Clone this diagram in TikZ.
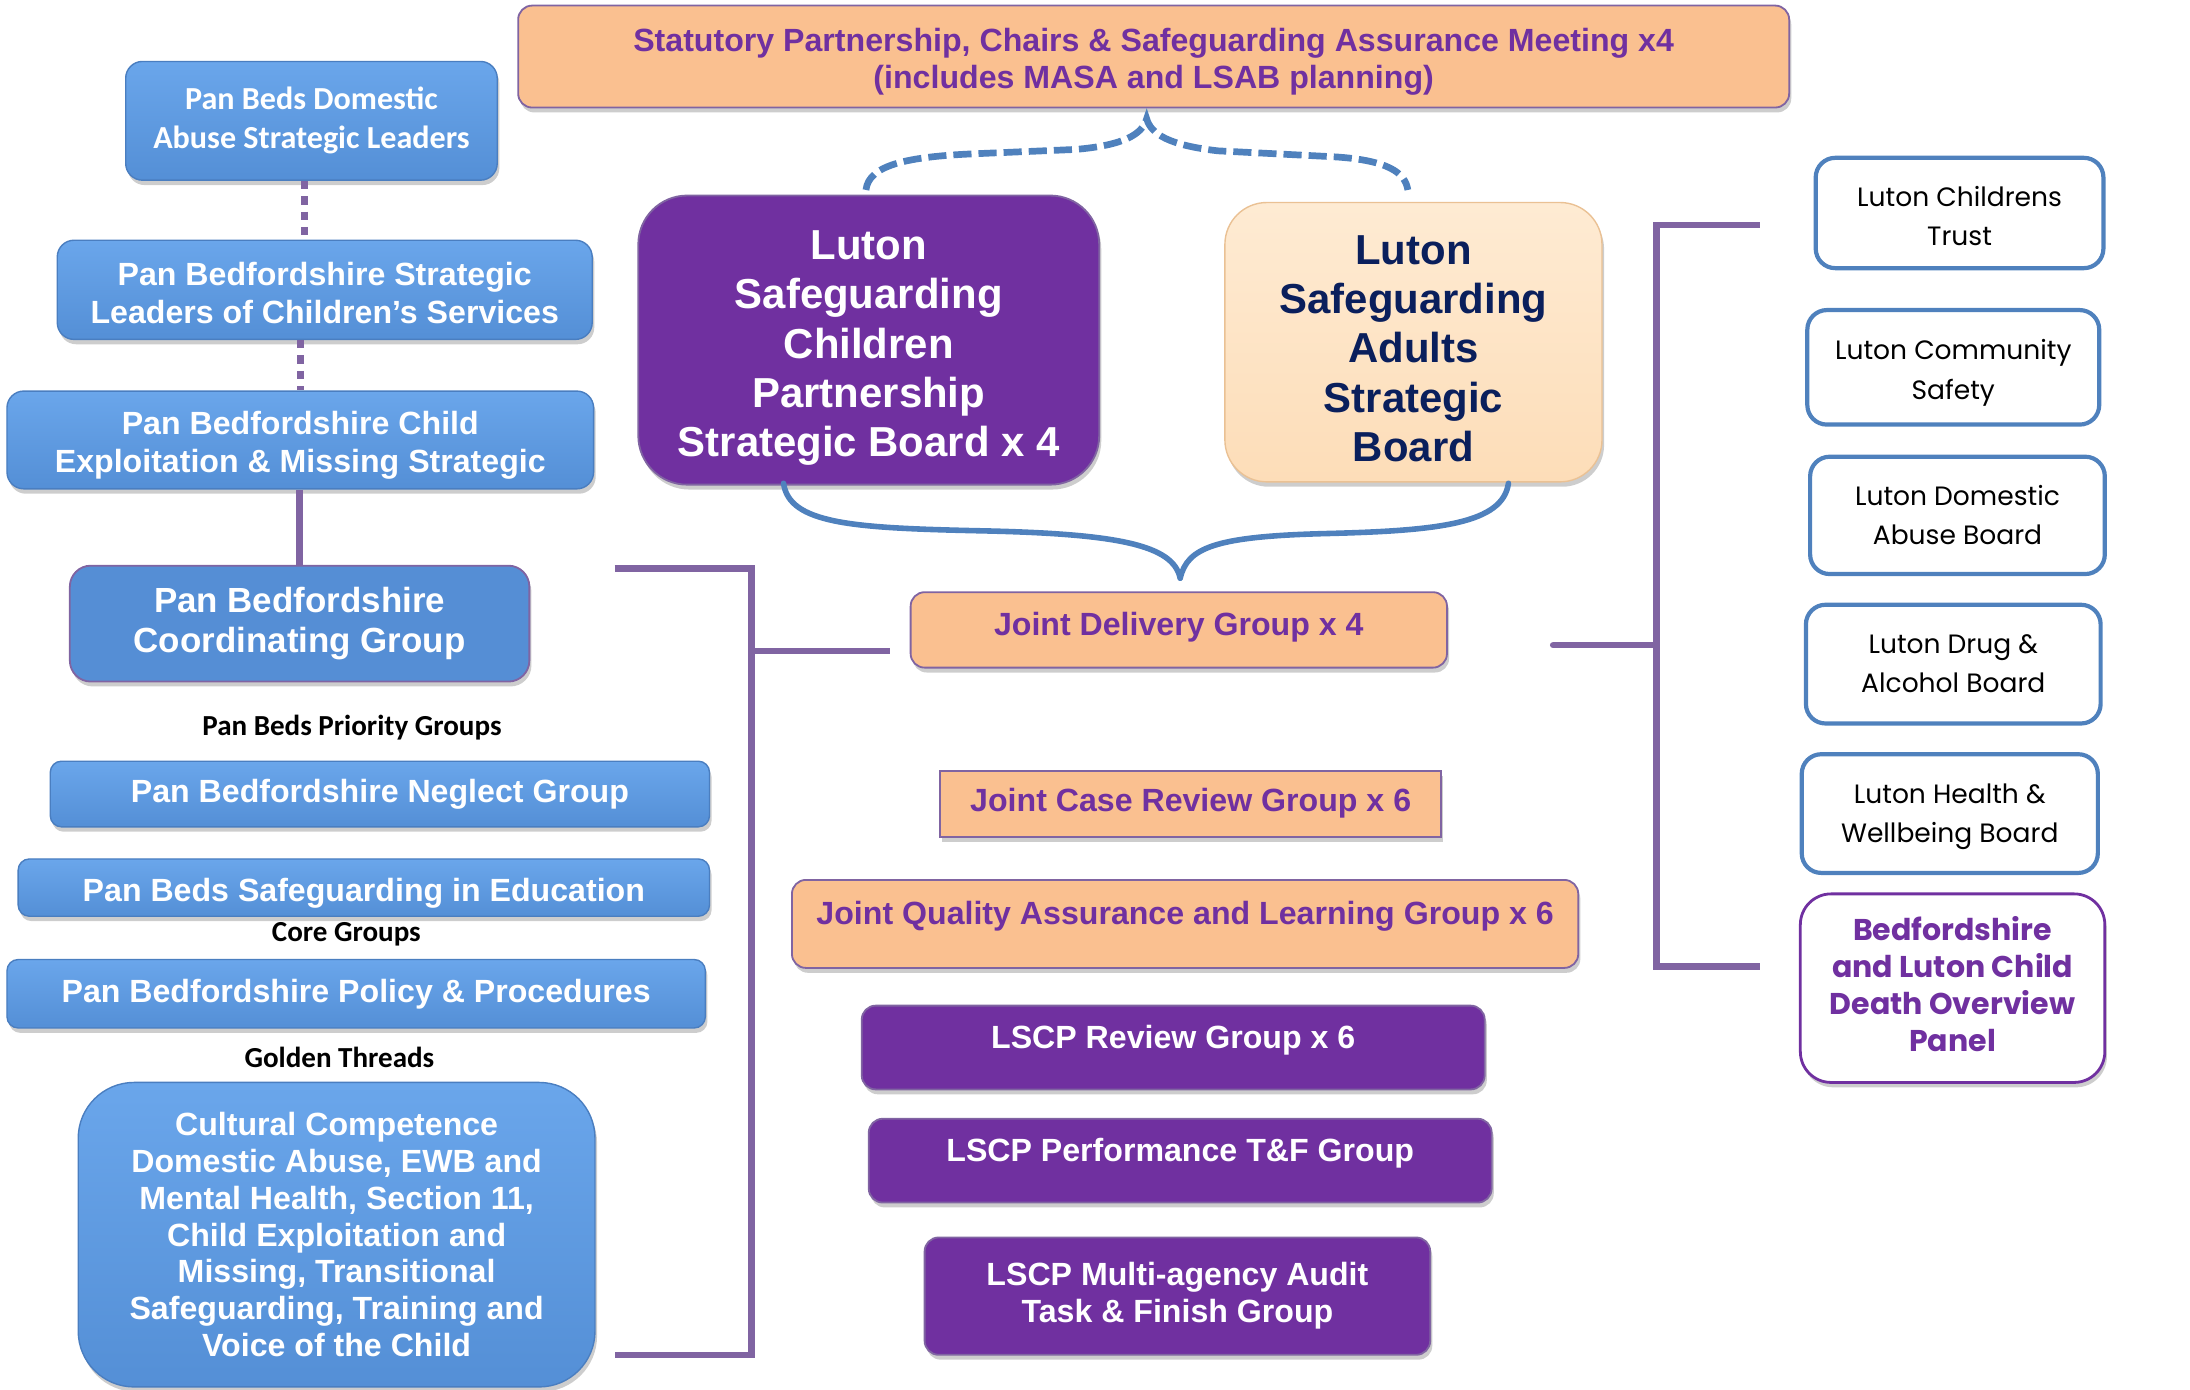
\documentclass[tikz,border=0pt]{standalone}
\usepackage{fontspec}
\setmainfont{Liberation Sans}
\newfontfamily\calib{Carlito}
\newfontfamily\gothic{Poppins}
\usetikzlibrary{shadows}
\definecolor{bluetop}{HTML}{6AA6EB}
\definecolor{bluemid}{HTML}{5B9BE0}
\definecolor{bluebot}{HTML}{548FD6}
\definecolor{blueedge}{HTML}{4A7EC0}
\definecolor{coordblue}{HTML}{558ED5}
\definecolor{lpurple}{HTML}{8064A2}
\definecolor{dpurple}{HTML}{7030A0}
\definecolor{peach}{HTML}{FAC090}
\definecolor{lpeachtop}{HTML}{FEEBD3}
\definecolor{lpeachbot}{HTML}{FDDDB8}
\definecolor{navy}{HTML}{0A1F5C}
\definecolor{bracecol}{HTML}{4F81BD}
\newcommand{\lift}[1]{\rule{0pt}{#1}}
\tikzset{
  shad/.style={drop shadow={shadow xshift=1.5pt, shadow yshift=-3.5pt, opacity=0.28, fill=black!70}},
  bluebar/.style={shad, draw=blueedge, line width=1pt, top color=bluetop, bottom color=bluebot,
    rounded corners=12pt, text=white, font=\fontsize{23}{27}\bfseries\selectfont, align=center, inner sep=0pt},
  orangebox/.style={shad, draw=lpurple, line width=1.3pt, fill=peach, rounded corners=10pt,
    text=dpurple, font=\fontsize{23}{26.5}\bfseries\selectfont, align=center, inner sep=0pt},
  purplebox/.style={shad, draw=lpurple, line width=1.3pt, fill=dpurple, rounded corners=10pt,
    text=white, font=\fontsize{23}{26.5}\bfseries\selectfont, align=center, inner sep=0pt},
  whitebox/.style={draw=bracecol, line width=3pt, fill=white, rounded corners=14pt,
    text=black, font=\gothic\fontsize{19}{28}\selectfont, align=center, inner sep=0pt},
  lbl/.style={font=\calib\fontsize{20.8}{24}\bfseries\selectfont, text=black, inner sep=0pt},
  conn/.style={draw=lpurple, line width=4.6pt},
  dconn/.style={draw=lpurple, line width=5pt, dash pattern=on 6pt off 5pt},
  bracel/.style={draw=bracecol, line width=4pt, line cap=round},
  bracedash/.style={draw=bracecol, line width=4.8pt, dash pattern=on 13pt off 5pt},
}
\begin{document}
\begin{tikzpicture}[x=1pt,y=-1pt]
\useasboundingbox (0,0) rectangle (1568,995);

% top meeting
\node[orangebox, minimum width=910pt, minimum height=73pt] (stat) at (826,40.5)
  {\lift{23.8pt}Statutory Partnership, Chairs \& Safeguarding Assurance Meeting x4\\(includes MASA and LSAB planning)};

% left column
\node[bluebar, font=\calib\fontsize{23}{28}\bfseries\selectfont, minimum width=266pt, minimum height=85pt] (dal) at (223,86.5)
  {Pan Beds Domestic\\Abuse Strategic Leaders};
\node[bluebar, minimum width=383pt, minimum height=71pt] (slcs) at (232.5,207.5)
  {\lift{20.8pt}Pan Bedfordshire Strategic\\Leaders of Children’s Services};
\node[bluebar, minimum width=420pt, minimum height=70pt] (cem) at (215,315)
  {\lift{23.8pt}Pan Bedfordshire Child\\Exploitation \& Missing Strategic};
\node[shad, draw=lpurple, line width=1.3pt, fill=coordblue, rounded corners=15pt, text=white,
  font=\fontsize{25}{29}\bfseries\selectfont, align=center, inner sep=0pt,
  minimum width=329pt, minimum height=83pt] (coord) at (214.5,446.5)
  {Pan Bedfordshire\\Coordinating Group};
\node[lbl] (prio) at (252,521) {Pan Beds Priority Groups};
\node[bluebar, rounded corners=8pt, minimum width=472pt, minimum height=47pt] (neglect) at (272,568.5)
  {Pan Bedfordshire Neglect Group};
\node[bluebar, rounded corners=8pt, minimum width=495pt, minimum height=41pt] (educ) at (260.5,635.5)
  {\lift{24.8pt}Pan Beds Safeguarding in Education};
\node[lbl] (core) at (248,669) {Core Groups};
\node[bluebar, rounded corners=8pt, minimum width=500pt, minimum height=49pt] (policy) at (255,711.5)
  {Pan Bedfordshire Policy \& Procedures};
\node[lbl] (golden) at (243,757) {Golden Threads};
\node[bluebar, rounded corners=40pt, font=\fontsize{23}{26.3}\bfseries\selectfont,
  minimum width=370pt, minimum height=218pt] (cult) at (241,884)
  {Cultural Competence\\Domestic Abuse, EWB and\\Mental Health, Section 11,\\Child Exploitation and\\Missing, Transitional\\Safeguarding, Training and\\Voice of the Child};

% central boards
\node[shad, draw=lpurple, line width=1.3pt, fill=dpurple, rounded corners=35pt, text=white,
  font=\fontsize{30}{35.3}\bfseries\selectfont, align=center, inner sep=0pt,
  minimum width=330pt, minimum height=207pt] (lscb) at (622,243.5)
  {\lift{32pt}Luton\\Safeguarding\\Children\\Partnership\\Strategic Board x 4};
\node[shad, draw=lpeachbot!70!brown, line width=1pt, top color=lpeachtop, bottom color=lpeachbot, rounded corners=30pt, text=navy,
  font=\fontsize{30}{35.3}\bfseries\selectfont, align=center, inner sep=0pt,
  minimum width=270pt, minimum height=200pt] (lsab) at (1012,245)
  {\lift{30pt}Luton\\Safeguarding\\Adults\\Strategic\\Board};

% central groups
\node[orangebox, text depth=8.8pt, minimum width=384pt, minimum height=54pt] (jdg) at (844,451)
  {Joint Delivery Group x 4};
\node[orangebox, rounded corners=0pt, text depth=5.8pt, minimum width=359pt, minimum height=47pt] (jcr) at (852.5,575.5)
  {Joint Case Review Group x 6};
\node[orangebox, text depth=15.8pt, minimum width=563pt, minimum height=63pt] (jqa) at (848.5,661.5)
  {Joint Quality Assurance and Learning Group x 6};
\node[purplebox, text depth=14.8pt, minimum width=446pt, minimum height=60pt] (lrg) at (840,750)
  {LSCP Review Group x 6};
\node[purplebox, text depth=14.8pt, minimum width=446pt, minimum height=60pt] (lpf) at (845,831)
  {LSCP Performance T\&F Group};
\node[purplebox, minimum width=362pt, minimum height=84pt] (lma) at (843,928)
  {LSCP Multi-agency Audit\\Task \& Finish Group};

% right column
\node[whitebox, minimum width=206pt, minimum height=79pt] (lct) at (1403,152.5) {\lift{19.4pt}Luton Childrens\\Trust};
\node[whitebox, minimum width=209pt, minimum height=82pt] (lcs) at (1398.5,263) {\lift{22.4pt}Luton Community\\Safety};
\node[whitebox, minimum width=211pt, minimum height=84pt] (lda) at (1401.5,369) {Luton Domestic\\Abuse Board};
\node[whitebox, minimum width=211pt, minimum height=85pt] (ldab) at (1398.5,475.5) {Luton Drug \&\\Alcohol Board};
\node[whitebox, minimum width=212pt, minimum height=85pt] (lhw) at (1396,582.5) {\lift{18pt}Luton Health \&\\Wellbeing Board};
\node[shad, draw=dpurple, line width=2pt, fill=white, rounded corners=22pt, text=dpurple,
  font=\gothic\fontsize{21.5}{26.3}\bfseries\selectfont, align=center, inner sep=0pt, text depth=6pt,
  minimum width=218pt, minimum height=135pt] (cdop) at (1398,707.5)
  {Bedfordshire\\and Luton Child\\Death Overview\\Panel};

% left column connectors
\draw[dconn] ([xshift=-5pt]dal.south) -- ([xshift=-5pt]dal.south |- slcs.north);
\draw[dconn] (cem.north |- slcs.south) -- (cem.north);
\draw[conn] (coord.north |- cem.south) -- (coord.north);

% left bracket
\coordinate (lbt) at (440,407);
\coordinate (lbb) at (440,970);
\coordinate (lbj) at (538,466);
\coordinate (lbe) at (637,466);
\draw[conn] (lbt) -| (lbj) |- (lbb);
\draw[conn] (lbj) -- (lbe);

% right bracket
\coordinate (rbt) at (1260,161);
\coordinate (rbb) at (1260,692);
\coordinate (rbj) at (1186,462);
\coordinate (rbe) at (1112,462);
\draw[conn] (rbt) -| (rbj) |- (rbb);
\draw[conn, line cap=round] (rbe) -- (rbj);

% dashed brace to meeting
\coordinate (tbl) at (620,136);
\coordinate (tbt) at (821,85);
\coordinate (tbr) at (1008,136);
\draw[bracedash] (tbl) .. controls (622,118) and (650,112) .. (700,110) -- (770,107)
  .. controls (805,104) and (818,96) .. (tbt)
  .. controls (824,96) and (837,104) .. (872,108) -- (950,112)
  .. controls (995,114) and (1006,124) .. (tbr);

% solid brace to joint delivery
\coordinate (bbl) at (561,346);
\coordinate (bbr) at (1080,346);
\coordinate (bbt) at (845,414);
\draw[bracel] (bbl) .. controls (565,375) and (610,378) .. (700,380)
  .. controls (800,382) and (840,390) .. (bbt);
\draw[bracel] (bbr) .. controls (1076,375) and (1030,380) .. (950,382)
  .. controls (870,384) and (850,392) .. (bbt);
\end{tikzpicture}
\end{document}
